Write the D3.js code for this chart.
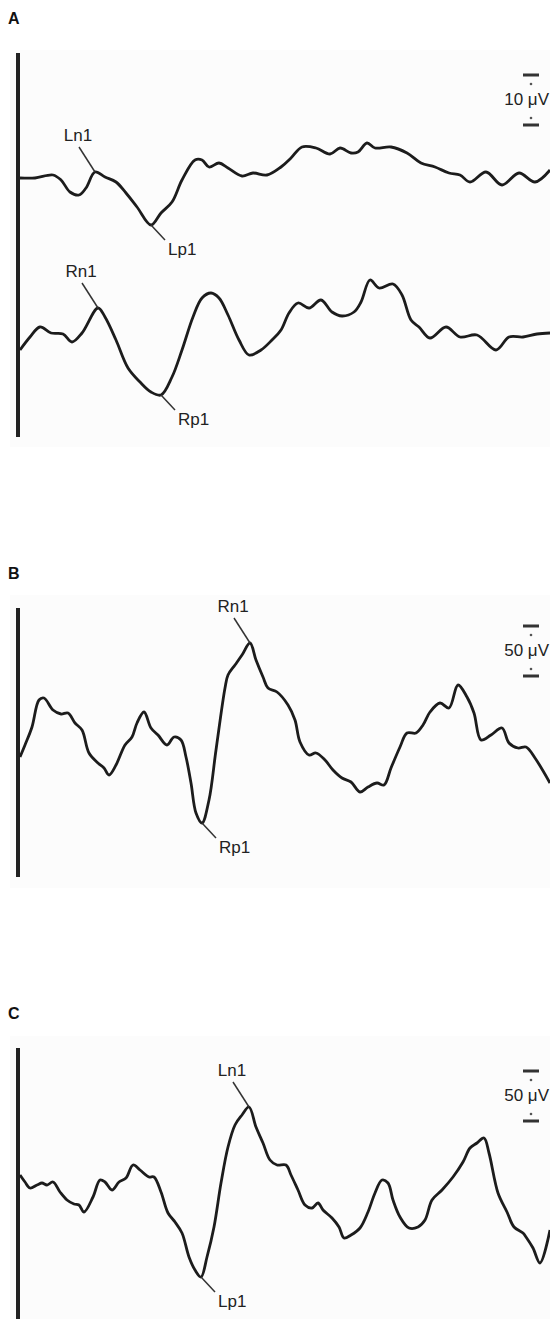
<!DOCTYPE html>
<html>
<head>
<meta charset="utf-8">
<script src="https://cdn.jsdelivr.net/npm/d3@7"></script>
<style>
  html, body { margin: 0; padding: 0; background: #fff; }
  svg { display: block; }
</style>
</head>
<body>
<script>
// time axis (samples after stimulus), values in µV relative to trace start
var traceA1 = [[0,0],[15,0],[33,0.6],[41,-0.4],[50,-2.8],[59,-3.4],[66,-2.0],[75,1.2],[85,0.2],[96,-0.8],
  [106,-3.0],[117,-5.8],[131,-9.4],[141,-7.0],[152,-4.8],[162,-0.4],[175,3.6],[182,3.6],[189,2.2],[199,3.0],
  [208,2.0],[222,0.4],[233,1.0],[247,0.6],[261,2.2],[271,4.0],[282,6.2],[296,6.0],[310,4.8],[320,6.0],
  [331,5.0],[338,5.2],[347,7.0],[355,6.0],[371,6.2],[387,5.0],[401,3.0],[415,2.2],[429,1.0],[440,0.6],
  [450,-0.8],[466,1.2],[482,-1.4],[499,1.0],[515,-0.8],[530,1.6]];

var traceA2 = [[0,0],[10,2.6],[20,4.6],[31,3.4],[43,3.2],[52,1.6],[62,3.4],[78,8.4],[85,6.6],[96,2.0],
  [108,-3.6],[120,-6.4],[131,-8.4],[141,-9.0],[152,-5.4],[162,0],[173,6.6],[182,10.4],[191,11.4],[199,10.4],
  [208,7.0],[219,2.0],[229,-1.0],[241,0],[252,2.0],[261,4.0],[269,7.4],[278,9.4],[289,8.4],[301,10.0],
  [312,7.6],[322,6.8],[334,7.6],[341,9.6],[350,14.0],[359,12.4],[373,13.2],[382,11.0],[391,6.0],[399,4.6],
  [410,2.4],[426,4.6],[440,2.6],[457,3.0],[476,0],[489,2.6],[503,2.6],[517,3.2],[530,3.4]];

var traceB = [[0,0],[5,12],[12,30],[19,57],[24,59],[33,47],[41,43],[48,44],[55,34],[62,27],
  [69,4],[78,-6],[84,-11],[89,-18],[96,-8],[105,12],[112,20],[117,34],[124,45],[131,29],
  [138,22],[147,12],[154,20],[161,17],[166,0],[171,-26],[176,-56],[182,-66],[189,-43],[196,7],
  [205,69],[208,82],[215,92],[222,102],[230,114],[236,97],[243,80],[248,69],[257,65],[268,52],
  [275,37],[280,15],[289,2],[296,4],[305,-3],[313,-13],[322,-21],[331,-25],[340,-35],[348,-30],
  [357,-26],[364,-28],[371,-11],[380,10],[387,24],[396,24],[403,32],[410,45],[420,54],[429,49],
  [438,72],[447,60],[454,44],[461,17],[471,22],[482,29],[489,14],[498,9],[506,10],[515,-1],[530,-26]];

var traceC = [[0,0],[5,-7],[10,-13],[17,-10],[22,-8],[27,-10],[33,-7],[40,-17],[47,-25],[54,-29],
  [59,-30],[64,-37],[73,-22],[80,-5],[85,-7],[92,-15],[99,-7],[106,-3],[113,10],[120,5],
  [129,-2],[134,-2],[141,-17],[148,-38],[155,-47],[162,-58],[169,-82],[175,-95],[181,-102],[187,-82],
  [194,-52],[201,-8],[208,28],[215,50],[222,60],[229,68],[236,48],[243,32],[250,15],[257,10],
  [266,10],[271,0],[278,-15],[285,-30],[292,-33],[298,-28],[303,-35],[312,-43],[319,-52],[324,-63],
  [331,-60],[340,-53],[348,-37],[355,-18],[362,-5],[368,-8],[373,-25],[380,-42],[389,-53],[398,-52],
  [405,-45],[412,-25],[422,-15],[433,-2],[443,13],[450,27],[457,32],[464,37],[469,22],[478,-18],
  [487,-37],[494,-52],[503,-58],[506,-62],[513,-73],[520,-88],[530,-55]];

// peak labels: [name, sample index of the peak]
var peaksA1 = [["Ln1", 75], ["Lp1", 131]];
var peaksA2 = [["Rn1", 78], ["Rp1", 141]];
var peaksB = [["Rn1", 230], ["Rp1", 182]];
var peaksC = [["Ln1", 229], ["Lp1", 181]];

var panelNames = ["A", "B", "C"];
var scaleBarUV = [10, 50, 50];

var width = 550, height = 1319;
var font = "'Liberation Sans', Arial, sans-serif";
var ink = "#1c1c1c";

var svg = d3.select("body").append("svg")
    .attr("width", width)
    .attr("height", height);

svg.append("rect").attr("width", width).attr("height", height).attr("fill", "#fff");

var x = d3.scaleLinear().domain([0, 530]).range([20, 550]);

// panel layout: top/bottom of the stimulus bar, label baseline, scale bar top
var panels = [
  { name: panelNames[0], labelY: 24, barTop: 53, barBottom: 437, bgTop: 50, bgBottom: 447, sbTop: 75, uv: scaleBarUV[0],
    traces: [
      { data: traceA1, y: d3.scaleLinear().domain([0, 10]).range([178, 128]), peaks: peaksA1 },
      { data: traceA2, y: d3.scaleLinear().domain([0, 10]).range([350, 300]), peaks: peaksA2 }
    ] },
  { name: panelNames[1], labelY: 579, barTop: 608, barBottom: 877, bgTop: 595, bgBottom: 888, sbTop: 626, uv: scaleBarUV[1],
    traces: [
      { data: traceB, y: d3.scaleLinear().domain([0, 50]).range([757, 707]), peaks: peaksB }
    ] },
  { name: panelNames[2], labelY: 1019, barTop: 1048, barBottom: 1319, bgTop: 1036, bgBottom: 1319, sbTop: 1071, uv: scaleBarUV[2],
    traces: [
      { data: traceC, y: d3.scaleLinear().domain([0, 50]).range([1175, 1125]), peaks: peaksC }
    ] }
];

var line = d3.line().curve(d3.curveCatmullRom.alpha(0.5));

panels.forEach(function(p) {
    var g = svg.append("g");

    g.append("rect")
        .attr("x", 10).attr("y", p.bgTop)
        .attr("width", width - 10).attr("height", p.bgBottom - p.bgTop)
        .attr("fill", "#fcfcfc");

    g.append("text")
        .attr("x", 8).attr("y", p.labelY)
        .style("font-family", font).style("font-weight", "bold").style("font-size", "16px")
        .attr("fill", "#111")
        .text(p.name);

    // stimulus onset bar
    g.append("line")
        .attr("x1", 18).attr("x2", 18)
        .attr("y1", p.barTop).attr("y2", p.barBottom)
        .attr("stroke", "#222").attr("stroke-width", 4);

    p.traces.forEach(function(tr) {
        g.append("path")
            .attr("d", line(tr.data.map(function(d) { return [x(d[0]), tr.y(d[1])]; })))
            .attr("fill", "none")
            .attr("stroke", ink)
            .attr("stroke-width", 2.8)
            .attr("stroke-linejoin", "round");

        tr.peaks.forEach(function(pk) {
            var pt = tr.data.find(function(d) { return d[0] === pk[1]; });
            var px = x(pt[0]), py = tr.y(pt[1]);
            var neg = pk[0].charAt(1) === "n";
            var ex = neg ? px - 16 : px + 14;
            var ey = neg ? py - 25 : py + 15;
            g.append("line")
                .attr("x1", px).attr("y1", py)
                .attr("x2", ex).attr("y2", ey)
                .attr("stroke", "#333").attr("stroke-width", 1.5);
            g.append("text")
                .attr("x", neg ? ex - 1 : ex + 3)
                .attr("y", neg ? ey - 6 : ey + 15)
                .attr("text-anchor", neg ? "middle" : "start")
                .style("font-family", font).style("font-size", "17px")
                .attr("fill", "#222")
                .text(pk[0]);
        });
    });

    // calibration bar
    var sy = p.traces[0].y;
    var len = sy(0) - sy(p.uv);
    var sb = g.append("g").attr("transform", "translate(531," + p.sbTop + ")");
    sb.append("line").attr("x1", -8).attr("x2", 8).attr("y1", 0).attr("y2", 0)
        .attr("stroke", "#333").attr("stroke-width", 3);
    sb.append("line").attr("x1", -8).attr("x2", 8).attr("y1", len).attr("y2", len)
        .attr("stroke", "#333").attr("stroke-width", 3);
    sb.append("circle").attr("cx", 0).attr("cy", 9).attr("r", 1.3).attr("fill", "#555");
    sb.append("circle").attr("cx", 0).attr("cy", len - 7).attr("r", 1.3).attr("fill", "#555");
    sb.append("text")
        .attr("x", 18).attr("y", len / 2 + 5)
        .attr("text-anchor", "end")
        .style("font-family", font).style("font-size", "17px")
        .attr("fill", "#222")
        .text(p.uv + " \u03bcV");
});
</script>
</body>
</html>
